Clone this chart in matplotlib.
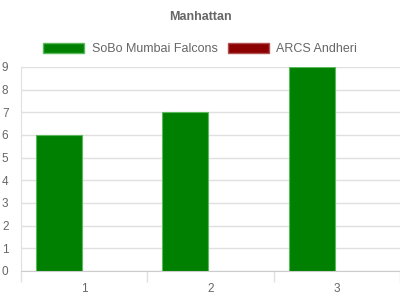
import matplotlib
matplotlib.use("Agg")
import matplotlib.pyplot as plt
from matplotlib.patches import Patch
import numpy as np

plt.rcParams['font.family'] = ['Liberation Sans', 'DejaVu Sans']

categories = ['1', '2', '3']
falcons = [6, 7, 9]
andheri = [0, 0, 0]

green = '#008000'
red = '#8b0000'
grid = '#e0e0e0'
txt = '#666666'

fig = plt.figure(figsize=(4, 3), dpi=100)
ax = fig.add_axes([0.0525, 0.0967, 0.9475, 0.68])

x = np.arange(len(categories))
w = 0.364
ax.bar(x - 0.199, falcons, w, color=green, edgecolor='#5cb85c', linewidth=0.8, zorder=3)
ax.bar(x + 0.165, andheri, w, color=red, linewidth=0, zorder=3)

ax.set_xlim(-0.5, 2.5)
ax.set_ylim(0, 9)
ax.set_yticks(range(0, 10))
ax.set_xticks(x)
ax.set_xticklabels(categories)
ax.set_xticks([-0.5, 0.5, 1.5, 2.5], minor=True)
ax.tick_params(axis='x', which='major', length=0, pad=9, labelsize=8.5, labelcolor=txt)
ax.tick_params(axis='x', which='minor', length=8, color=grid, width=1)
ax.tick_params(axis='y', length=0, pad=9, labelsize=8.5, labelcolor=txt)

ax.grid(axis='y', color=grid, linewidth=1, zorder=0)
for s in ['top', 'right']:
    ax.spines[s].set_visible(False)
ax.spines['left'].set_color(grid)
ax.spines['bottom'].set_color('#cccccc')

fig.text(0.5, 0.943, 'Manhattan', ha='center', va='center', fontsize=9,
         fontweight='bold', color=txt)

handles = [Patch(facecolor=green, edgecolor='#5cb85c', label='SoBo Mumbai Falcons'),
           Patch(facecolor=red, edgecolor='#b05050', label='ARCS Andheri')]
fig.legend(handles=handles, loc='center', bbox_to_anchor=(0.5, 0.837), ncol=2,
           frameon=False, fontsize=9, labelcolor=txt, handlelength=3.3,
           handleheight=0.9, handletextpad=0.6, columnspacing=0.8)

fig.savefig('out.png', dpi=100)
